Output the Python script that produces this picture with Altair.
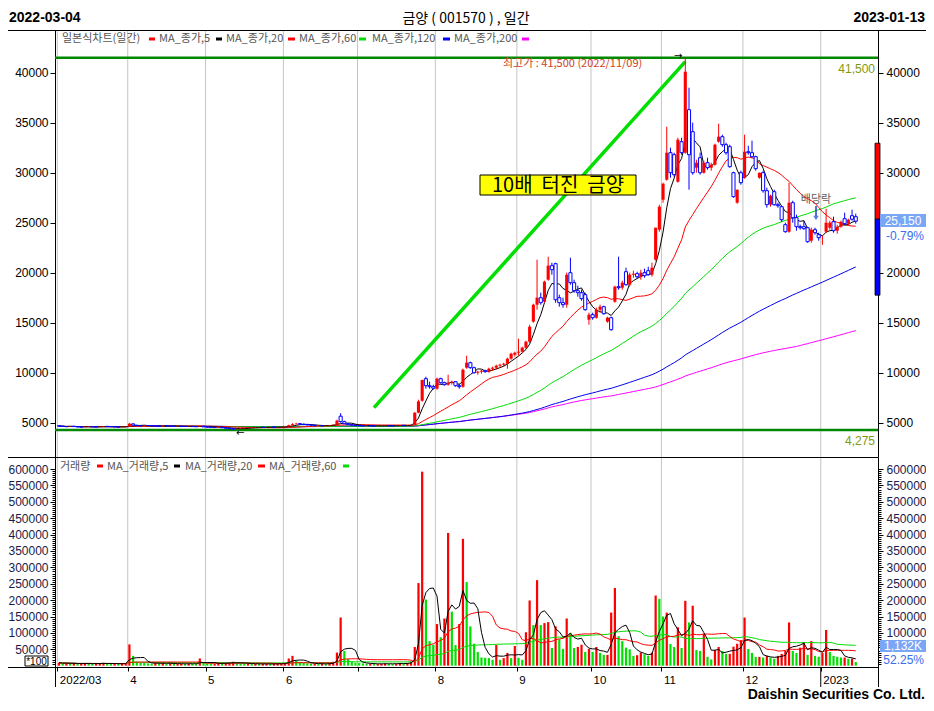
import altair as alt
import pandas as pd

# ---------------- data ----------------
month_idx = [0, 19, 40, 61, 81, 102, 124, 144, 163, 185, 206]
month_lbl = ["2022/03", "4", "5", "6", "", "8", "9", "10", "11", "12", "2023"]

open_p = [4700,4650,4620,4600,4640,4610,4580,4560,4600,4620,4590,4570,4600,4640,4620,4600,4580,4560,4590,
          4610,4880,4750,4700,4680,4720,4700,4690,4660,4650,4700,4680,4660,4640,4650,4630,4620,4640,4610,4600,4650,
          4580,4560,4540,4520,4560,4500,4450,4400,4350,4400,4440,4460,4480,4500,4520,4540,4530,4550,4560,4550,4570,
          4580,4620,4750,4850,4900,4850,4800,4780,4750,4700,4720,4680,4700,4750,4800,5650,5100,4900,4800,4750,
          4720,4700,4680,4700,4690,4670,4680,4690,4710,4700,4680,4700,4740,4720,4740,4800,6000,7200,9400,8700,8600,
          8400,9400,9000,8800,9000,9100,8700,8600,10500,11000,10500,10000,10100,10200,10100,10400,10500,10700,10800,10900,11400,11800,
          12000,12100,12500,13100,15100,16800,17500,17100,19300,20700,20900,17500,17000,16800,20000,19000,18200,18000,17800,15300,
          15800,15500,16300,16600,15100,15500,17100,18600,18500,20100,18800,19800,19900,19600,20000,20200,19800,21300,24300,
          27300,29300,32000,31800,29100,33100,32000,36300,34100,30500,31500,30000,31000,30500,30800,33100,33600,32800,32600,30000,27000,30000,
          29500,32100,32000,31600,29500,30000,28200,26800,28100,26800,26600,24800,24100,27000,25500,24600,24600,24500,23200,24300,23800,
          23500,24100,24500,25100,24200,24600,25400,24900,25700,25600]
high_p = [4740,4680,4650,4660,4660,4630,4600,4620,4650,4640,4610,4620,4660,4660,4640,4620,4600,4610,4630,
          4980,4950,4780,4730,4750,4740,4720,4700,4680,4730,4710,4690,4670,4670,4660,4650,4660,4650,4630,4700,4660,
          4600,4580,4560,4600,4570,4520,4470,4420,4420,4460,4480,4500,4520,4540,4560,4560,4570,4580,4590,4580,4600,
          4650,4800,4950,5000,4950,4900,4850,4820,4780,4760,4740,4720,4780,4850,5300,5950,5200,4950,4850,4800,
          4760,4730,4720,4740,4720,4700,4710,4730,4740,4720,4710,4760,4780,4760,4800,6050,7300,9300,9600,9100,8800,
          9500,9500,9100,9800,9200,9150,8900,10400,11700,11100,10600,10200,10300,10300,10500,10600,10800,10900,11000,11500,12000,12100,
          13400,12600,13200,14800,16900,21300,18000,19200,21600,21000,21000,17800,17500,20000,21500,19300,18700,18300,18000,16000,
          16000,16500,16800,16700,15600,15600,18700,21600,19200,20500,20000,20200,20100,20300,20400,20600,21000,24500,26800,
          29000,34600,32500,32000,33500,33500,41500,38500,35000,31300,32000,31200,31500,31000,32900,34900,33800,33000,32800,30100,28300,30200,
          33800,32700,33200,31700,30000,30200,28500,27800,28300,27000,26700,25000,29000,27200,25800,24800,25200,24600,24500,24500,24000,
          23700,26400,25200,25600,24800,25200,26000,25400,26300,25900]
low_p = [4620,4600,4580,4590,4600,4570,4540,4550,4590,4580,4560,4560,4590,4610,4590,4570,4550,4550,4580,
         4600,4730,4680,4660,4670,4680,4670,4650,4630,4640,4660,4640,4620,4620,4610,4600,4610,4600,4580,4590,4570,
         4540,4520,4500,4500,4480,4430,4380,4275,4330,4390,4420,4440,4460,4480,4500,4510,4520,4530,4530,4540,4550,
         4570,4610,4720,4800,4820,4780,4750,4720,4690,4680,4660,4650,4690,4740,4780,5000,4850,4780,4720,4700,
         4680,4650,4660,4670,4650,4640,4650,4670,4680,4660,4660,4690,4700,4700,4720,4780,5950,7100,8400,8400,8300,
         8300,8900,8700,8700,8800,8600,8400,8500,10400,10400,9900,9800,9900,10000,10000,10200,10300,10500,10600,10400,11300,11600,
         11700,12000,12400,13000,15000,16300,16800,17000,19200,19800,17000,16600,16500,16500,18800,18000,17600,17200,16200,14800,
         15300,15400,16000,15800,15000,14200,17000,18300,18300,18700,18600,19500,19400,19300,19500,19700,19600,21200,24100,
         27000,29200,29500,29600,29000,31800,31900,28300,29800,30000,29800,29900,30300,30200,30700,33000,32600,31800,30500,27500,26900,28800,
         29400,31800,31500,30200,29400,28000,26500,26600,26700,26500,25100,24000,24000,25000,24200,24300,24300,23000,23000,23800,23200,
         22800,24000,24300,24000,23900,24500,24800,24700,25200,24900]
close_p = [4650,4620,4600,4640,4610,4580,4560,4600,4620,4590,4570,4600,4640,4620,4600,4580,4560,4590,4610,
           4900,4750,4700,4680,4720,4700,4690,4660,4650,4700,4680,4660,4640,4650,4630,4620,4640,4610,4600,4650,4580,
           4560,4540,4520,4560,4500,4450,4400,4350,4400,4440,4460,4480,4500,4520,4540,4530,4550,4560,4550,4570,4580,
           4620,4750,4850,4900,4850,4800,4780,4750,4700,4720,4680,4700,4750,4800,5200,5100,4900,4800,4750,4720,
           4700,4680,4700,4690,4670,4680,4690,4710,4700,4680,4700,4740,4720,4740,4780,6000,7130,9270,8700,8600,8450,
           9400,9000,8800,9000,9100,8700,8600,10300,11000,10500,10000,10100,10200,10100,10400,10500,10700,10800,10900,11400,11900,12000,
           12100,12500,13100,14600,16800,17500,17000,19100,20700,20300,17300,17000,16800,19800,19000,18200,18000,17400,16300,15800,
           15500,16300,16600,15900,15500,14300,18600,18500,19000,18800,19800,19900,19600,20000,19700,19800,20500,24500,26600,
           28900,32000,30000,29800,33300,32000,40100,31800,30000,31000,30000,31000,30500,30800,32800,33600,32800,32000,30600,27600,28300,29000,
           32100,32000,31600,30400,30000,28200,26800,27700,26800,26700,25300,24100,27000,25500,24600,24500,24400,23100,24300,24000,23500,
           23500,25000,25000,24200,24600,25100,24900,25300,25350,25150]
volume = [9000,7000,8000,6000,7000,5000,6000,8000,7000,5000,6000,7000,9000,6000,5000,6000,5000,7000,8000,
          65000,30000,12000,9000,8000,7000,6000,9000,7000,8000,6000,7000,5000,6000,6000,5000,7000,6000,5000,22000,8000,
          7000,6000,6000,10000,7000,8000,9000,12000,8000,7000,6000,6000,5000,6000,5000,5000,6000,5000,5000,6000,6000,
          9000,22000,30000,15000,10000,8000,7000,6000,6000,5000,6000,5000,8000,12000,40000,147000,45000,20000,12000,9000,
          8000,7000,6000,6000,5000,5000,6000,7000,6000,5000,6000,8000,7000,8000,12000,57000,252000,592000,202000,75000,64000,
          127000,87000,144000,405000,165000,63000,127000,387000,255000,120000,67000,42000,25000,24000,23000,18000,63000,18000,23000,39000,23000,60000,
          24000,18000,102000,199000,124000,261000,124000,130000,133000,54000,120000,81000,51000,144000,100000,54000,57000,64000,42000,51000,
          42000,57000,39000,33000,33000,162000,237000,90000,75000,55000,50000,30000,32000,40000,35000,30000,40000,214000,204000,
          150000,162000,66000,57000,117000,54000,198000,132000,183000,48000,45000,97000,27000,19000,48000,57000,45000,36000,36000,58000,67000,78000,
          147000,51000,39000,27000,27000,25000,30000,25000,21000,30000,36000,45000,132000,45000,39000,55000,72000,33000,75000,30000,27000,
          39000,109000,42000,30000,27000,25000,25000,21000,21665,11320]

limit_vals = [32950, 25350, 17750]      # upper limit, previous close, lower limit
peak_low = [41500, 4275]                # period high / low
peak_low_idx = [169, 47]                # days of the period high / low
trend_i = [85, 169]
trend_p = [6500, 41100]

# ---------------- frames ----------------
n = len(close_p)
df = pd.DataFrame({"i": list(range(n)), "open": open_p, "high": high_p,
                   "low": low_p, "close": close_p, "vol": volume})
df["up"] = df["close"] >= df["open"]
df["top"] = df[["open", "close"]].max(axis=1)
df["bot"] = df[["open", "close"]].min(axis=1)
df["vup"] = df["vol"] >= df["vol"].shift(1).fillna(0)

ONE = pd.DataFrame({"k": [0]})
FONT = "Liberation Sans"
KFONT = "Noto Sans CJK KR"

XS = alt.Scale(domain=[-1.08, 221.0], nice=False, zero=False)
PS = alt.Scale(domain=[1570, 44270], range=[427, 0], nice=False, zero=False)
VS = alt.Scale(domain=[-4000, 636700], range=[637, 427], nice=False, zero=False)

tick_vals = [m - 0.45 for m in month_idx]
lab_expr = "''"
for v, lab in reversed(list(zip(tick_vals, month_lbl))):
    lab_expr = f"abs(datum.value - ({v})) < 0.1 ? '{lab}' : {lab_expr}"

X_AXIS = alt.Axis(values=tick_vals, labelExpr=lab_expr, grid=False,
                  domainColor="black", tickColor="black", tickSize=4,
                  labelAlign="left", labelOffset=2, labelPadding=3, labelFont=FONT,
                  labelFontSize=11.5, labelColor="black", title=None, labelBaseline="top",
                  labelFlush=False, labelOverlap=False)

def X(field="i:Q"):
    return alt.X(field, scale=XS, axis=X_AXIS)

base = alt.Chart(df)

# ---- month grid ----
grid_df = pd.DataFrame({"i": tick_vals})
grid = alt.Chart(grid_df).mark_rule(color="#c4c4c4", strokeWidth=1).encode(
    x=X(), y=alt.value(0), y2=alt.value(637))

# ---- price panel ----
wick_up = base.transform_filter("datum.up").mark_rule(color="#ff0000", strokeWidth=1).encode(
    x=X(), y=alt.Y("low:Q", scale=PS, axis=None), y2="high:Q")
wick_dn = base.transform_filter("!datum.up").mark_rule(color="#0000ff", strokeWidth=1).encode(
    x=X(), y=alt.Y("low:Q", scale=PS, axis=None), y2="high:Q")
body_up = base.transform_filter("datum.up").transform_calculate(
    x1="datum.i - 0.42", x2="datum.i + 0.42").mark_rect(color="#ff0000").encode(
    x=X("x1:Q"), x2="x2:Q", y=alt.Y("bot:Q", scale=PS, axis=None), y2="top:Q")
body_dn = base.transform_filter("!datum.up").transform_calculate(
    x1="datum.i - 0.42", x2="datum.i + 0.42").mark_rect(fill="white", stroke="#0000ff", strokeWidth=1).encode(
    x=X("x1:Q"), x2="x2:Q", y=alt.Y("bot:Q", scale=PS, axis=None), y2="top:Q")

def ma_line(src, n_, color, name, yscale, width=1):
    return base.transform_window(**{name: f"mean({src})"}, frame=[-(n_ - 1), 0],
                                 sort=[alt.SortField("i")]).mark_line(
        color=color, strokeWidth=width, interpolate="linear").encode(
        x=X(), y=alt.Y(f"{name}:Q", scale=yscale, axis=None))

ma5 = ma_line("close", 5, "black", "ma5", PS)
ma20 = ma_line("close", 20, "#ff0000", "ma20", PS)
ma60 = ma_line("close", 60, "#00dd00", "ma60", PS)
ma120 = ma_line("close", 120, "#0000ee", "ma120", PS)
ma200 = ma_line("close", 200, "#ff00ff", "ma200", PS)

hl_df = pd.DataFrame({"p": peak_low, "i": peak_low_idx,
                      "arrow": ["→", "←"], "dx": [-7, 7], "dy": [-2, 3]})
hl_lines = alt.Chart(hl_df).mark_rule(color="#008800", strokeWidth=2.5).encode(
    x=alt.value(0), x2=alt.value(823), y=alt.Y("p:Q", scale=PS, axis=None))
hi_arrow = alt.Chart(hl_df.iloc[[0]]).mark_text(fontSize=10, color="black", dx=-7, dy=-2,
                                                font="DejaVu Sans").encode(
    x=X(), y=alt.Y("p:Q", scale=PS, axis=None), text="arrow:N")
lo_arrow = alt.Chart(hl_df.iloc[[1]]).mark_text(fontSize=10, color="black", dx=7, dy=3,
                                                font="DejaVu Sans").encode(
    x=X(), y=alt.Y("p:Q", scale=PS, axis=None), text="arrow:N")

trend_df = pd.DataFrame({"i": trend_i, "p": trend_p})
trend = alt.Chart(trend_df).mark_line(color="#00e000", strokeWidth=3.5).encode(
    x=X(), y=alt.Y("p:Q", scale=PS, axis=None))

lim_df = pd.DataFrame({"a": [limit_vals[0], limit_vals[1]], "b": [limit_vals[1], limit_vals[2]],
                       "c": ["#ff0000", "#0000ff"]})
lim_bar = alt.Chart(lim_df).mark_rect(stroke="black", strokeWidth=0.8).encode(
    x=alt.value(820), x2=alt.value(825), y=alt.Y("a:Q", scale=PS, axis=None), y2="b:Q",
    color=alt.Color("c:N", scale=None))

price_group = alt.layer(hl_lines, trend, ma200, ma120, ma60, ma20, ma5,
                        wick_up, wick_dn, body_up, body_dn, lim_bar, hi_arrow, lo_arrow)

# ---- axes carriers ----
def y_axis(orient, values, color="black", labels=True, tick=5):
    return alt.Axis(orient=orient, values=values, format="d", labels=labels,
                    labelFont=FONT, labelFontSize=12, labelColor=color, tickColor="black",
                    domainColor="black", tickSize=tick, labelPadding=3 if orient == "right" else 2,
                    title=None, grid=False, labelOverlap=False, labelFlush=False)

p_left_vals = list(range(5000, 40001, 5000))
p_right_vals = [v for v in p_left_vals if v != 25000]
v_left_vals = list(range(50000, 600001, 50000))
v_right_vals = list(range(100000, 600001, 50000))
v_minor_vals = [v for v in range(0, 600001, 6250) if v % 50000 != 0]

def carrier(field, scale, axis):
    return base.mark_point(opacity=0).encode(x=X(), y=alt.Y(field, scale=scale, axis=axis))

price_left = carrier("close:Q", PS, y_axis("left", p_left_vals))
price_right = carrier("close:Q", PS, y_axis("right", p_right_vals))
vol_left = carrier("vol:Q", VS, y_axis("left", v_left_vals, color="#1a1a4a"))
vol_right = carrier("vol:Q", VS, y_axis("right", v_right_vals, color="#1a1a4a"))
vol_left_minor = carrier("vol:Q", VS, y_axis("left", v_minor_vals, labels=False, tick=3))
vol_right_minor = carrier("vol:Q", VS, y_axis("right", v_minor_vals, labels=False, tick=3))

# ---- volume panel ----
vbars = base.transform_calculate(x1="datum.i - 0.3", x2="datum.i + 0.3").mark_rect().encode(
    x=X("x1:Q"), x2="x2:Q", y=alt.Y("vol:Q", scale=VS, axis=None), y2=alt.datum(0),
    color=alt.condition("datum.vup", alt.value("#ff0000"), alt.value("#00e000")))
vma5 = ma_line("vol", 5, "black", "vma5", VS)
vma20 = ma_line("vol", 20, "#ff0000", "vma20", VS)
vma60 = ma_line("vol", 60, "#00dd00", "vma60", VS)
vol_group = alt.layer(vbars, vma60, vma20, vma5)

# ---- decorations (pixel positions) ----
def txt(s, x, y, size=11, color="black", align="left", weight="normal", font=KFONT):
    return alt.Chart(ONE).mark_text(text=s, align=align, baseline="alphabetic", fontSize=size,
                                    color=color, fontWeight=weight, font=font).encode(
        x=alt.value(x), y=alt.value(y))

def rect(x1, x2, y1, y2, fill, stroke=None):
    kw = {"fill": fill}
    if stroke:
        kw["stroke"] = stroke
        kw["strokeWidth"] = 1
    return alt.Chart(ONE).mark_rect(**kw).encode(
        x=alt.value(x1), x2=alt.value(x2), y=alt.value(y1), y2=alt.value(y2))

def hrule(x1, x2, y, color="black", w=1):
    return alt.Chart(ONE).mark_rule(color=color, strokeWidth=w).encode(
        x=alt.value(x1), x2=alt.value(x2), y=alt.value(y))

def vrule(x, y1, y2, color="black", w=1):
    return alt.Chart(ONE).mark_rule(color=color, strokeWidth=w).encode(
        x=alt.value(x), y=alt.value(y1), y2=alt.value(y2))

year_df = pd.DataFrame({"i": [tick_vals[-1]]})
year_tick = alt.Chart(year_df).mark_rule(color="black").encode(
    x=X(), y=alt.value(637), y2=alt.value(657))

deco = [
    hrule(-47, 871, 0.5),
    hrule(-47, 823, 427.5),
    hrule(-47, 0, 637.5),
    vrule(0.5, 637, 657),
    vrule(823.5, 637, 657),
]

NB = "\u00a0"
texts = [
    txt("2022-03-04", -46, -8, size=14, weight="bold", font=FONT),
    txt("금양 ( 001570 ) , 일간", 411, -7, size=14, align="center"),
    txt("2023-01-13", 870, -8, size=14, weight="bold", font=FONT, align="right"),
    txt("Daishin Securities Co. Ltd.", 870, 669, size=14, weight="bold", font=FONT, align="right"),
    # price legend
    txt("일본식차트(일간)", 7, 12, color="#555555"),
    txt("MA_종가,5", 104, 12, color="#555555"),
    txt("MA_종가,20", 171, 12, color="#555555"),
    txt("MA_종가,60", 244, 12, color="#555555"),
    txt("MA_종가,120", 317, 12, color="#555555"),
    txt("MA_종가,200", 399, 12, color="#555555"),
    # volume legend
    txt("거래량", 5, 440, color="#555555"),
    txt("MA_거래량,5", 52, 440, color="#555555"),
    txt("MA_거래량,20", 130, 440, color="#555555"),
    txt("MA_거래량,60", 214, 440, color="#555555"),
    # annotations
    txt("최고가 : 41,500 (2022/11/09)", 448, 37, color="#d04020"),
    txt("41,500", 820, 43, size=12, color="#7f9a10", align="right", font=FONT),
    txt("4,275", 820, 415, size=12, color="#7f9a10", align="right", font=FONT),
    txt("배당락", 761, 173, size=11, color="#606060", align="center"),
]

legend_marks = [
    rect(94, 100, 7.5, 10.5, "#ff0000"), rect(161, 167, 7.5, 10.5, "black"),
    rect(233, 240, 7.5, 10.5, "#ff0000"), rect(304, 311, 7.5, 10.5, "#00dd00"),
    rect(388, 395, 7.5, 10.5, "#0000ff"), rect(467, 474, 7.5, 10.5, "#ff00ff"),
    rect(42, 48, 434.5, 437.5, "#ff0000"), rect(119, 125, 434.5, 437.5, "black"),
    rect(203, 210, 434.5, 437.5, "#ff0000"), rect(288, 294, 434.5, 437.5, "#00dd00"),
]

badges = [
    rect(425, 581, 145, 165, "#ffff00", stroke="black"),
    txt(f"10배{NB}{NB}터진{NB}{NB}금양", 503, 162, size=20, align="center"),
    rect(825, 871, 184, 197, "#7aa6f6"),
    txt("25,150", 848, 195, size=12, color="white", align="center", font=FONT),
    txt("-0.79%", 869, 210, size=12, color="#3a6cf0", align="right", font=FONT),
    rect(825, 871, 610, 622, "#7aa6f6"),
    txt("1,132K", 848, 620, size=12, color="white", align="center", font=FONT),
    txt("52.25%", 869, 634, size=12, color="#3a6cf0", align="right", font=FONT),
    rect(-30, -7, 626, 636, "white", stroke="black"),
    txt("*100", -18.5, 634.5, size=10, align="center", font=FONT),
    vrule(761, 176, 186, color="#2040c0", w=1.5),
    alt.Chart(ONE).mark_point(shape="triangle-down", size=30, filled=True, color="#2040c0").encode(
        x=alt.value(761), y=alt.value(188)),
]

chart = alt.layer(
    grid, price_left, *deco, year_tick, price_group, price_right,
    vol_group, vol_left, vol_right, vol_left_minor, vol_right_minor,
    *legend_marks, *texts, *badges
).resolve_scale(y="independent").properties(
    width=823, height=637,
    autosize=alt.AutoSizeParams(type="none"),
    padding={"left": 47, "top": 22, "right": 48, "bottom": 36},
    background="white",
).configure_view(stroke=None)

chart.save("out.html", embed_options={"renderer": "svg", "actions": False})
